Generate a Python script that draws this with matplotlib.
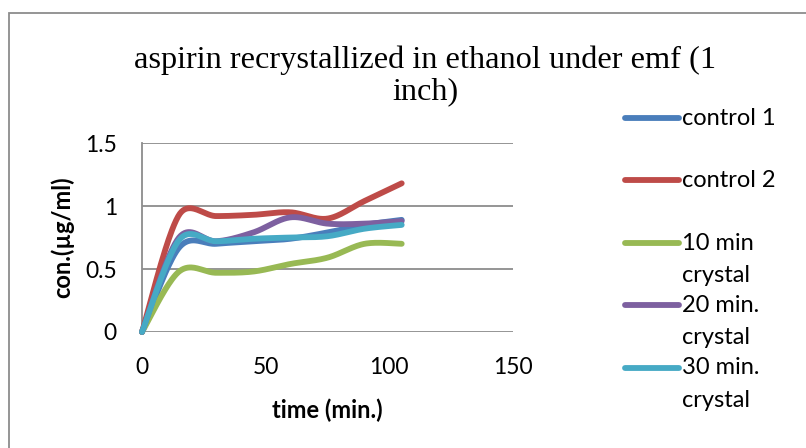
import numpy as np
import matplotlib
matplotlib.use("Agg")
import matplotlib.pyplot as plt
from matplotlib.lines import Line2D
from matplotlib.patches import Rectangle

# ---- data ----
time_min = [0, 15, 30, 45, 60, 75, 90, 105]
control_1 = [0, 0.67, 0.70, 0.72, 0.74, 0.79, 0.85, 0.89]
control_2 = [0, 0.93, 0.92, 0.93, 0.95, 0.90, 1.04, 1.18]
crystal_10 = [0, 0.48, 0.47, 0.48, 0.54, 0.59, 0.70, 0.70]
crystal_20 = [0, 0.75, 0.72, 0.79, 0.91, 0.86, 0.86, 0.88]
crystal_30 = [0, 0.73, 0.72, 0.74, 0.75, 0.76, 0.82, 0.85]
series_labels = ["control 1", "control 2", "10 min\ncrystal", "20 min.\ncrystal", "30 min.\ncrystal"]
x_ticks = [0, 50, 100, 150]
y_ticks = [0, 0.5, 1, 1.5]
y_tick_labels = ["0", "0.5", "1", "1.5"]
title = "aspirin recrystallized in ethanol under emf (1\ninch)"
x_label = "time (min.)"
y_label = "con.(\u00b5g/ml)"

colors = ["#4A7EBB", "#BE4B48", "#98B954", "#7D60A0", "#46AAC5"]
series = [control_1, control_2, crystal_10, crystal_20, crystal_30]

W, H = 806, 448
AX_L, AX_R, AX_T, AX_B = 142, 513, 143, 332
XMAX, YMAX = 150, 1.5
LW = 4.2


def smooth(xs, ys, n=40):
    """Excel-like smoothing (Bezier, tension 1/6, limited to half segment), computed in pixel space."""
    kx = (AX_R - AX_L) / XMAX
    ky = (AX_B - AX_T) / YMAX
    P = np.column_stack([np.asarray(xs, float) * kx, np.asarray(ys, float) * ky])
    out = [P[0]]
    m = len(P)
    for i in range(m - 1):
        p0 = P[i - 1] if i > 0 else P[i]
        p1 = P[i]
        p2 = P[i + 1]
        p3 = P[i + 2] if i + 2 < m else P[i + 1]
        d12 = np.linalg.norm(p2 - p1)
        d02 = np.linalg.norm(p2 - p0)
        d13 = np.linalg.norm(p3 - p1)
        f1 = min(1 / 6, d12 / (2 * d02)) if d02 > 0 else 0
        f2 = min(1 / 6, d12 / (2 * d13)) if d13 > 0 else 0
        c1 = p1 + (p2 - p0) * f1
        c2 = p2 - (p3 - p1) * f2
        t = np.linspace(0, 1, n)[1:, None]
        seg = ((1 - t) ** 3) * p1 + 3 * ((1 - t) ** 2) * t * c1 + 3 * (1 - t) * t ** 2 * c2 + t ** 3 * p2
        out.extend(seg)
    out = np.array(out)
    return out[:, 0] / kx, out[:, 1] / ky


fig = plt.figure(figsize=(W / 100, H / 100), dpi=100)
fig.patch.set_facecolor("white")

# outer chart border (only top/left visible)
fig.add_artist(Rectangle((9 / W, -0.1), 1.2, (H - 13) / H + 0.1, transform=fig.transFigure,
                         fill=False, edgecolor="#8c8c8c", linewidth=1.3))

ax = fig.add_axes([AX_L / W, (H - AX_B) / H, (AX_R - AX_L) / W, (AX_B - AX_T) / H])
ax.set_xlim(0, XMAX)
ax.set_ylim(0, YMAX)

for yv in y_ticks:
    ax.axhline(yv, color="#8c8c8c", linewidth=1.3, zorder=1)
for s in ["top", "right", "bottom"]:
    ax.spines[s].set_visible(False)
ax.spines["left"].set_color("#8c8c8c")
ax.spines["left"].set_linewidth(1.3)

for ys, c in zip(series, colors):
    sx, sy = smooth(time_min, ys)
    ax.plot(sx, sy, color=c, linewidth=LW, solid_capstyle="round", zorder=3, clip_on=False)

tick_font = dict(family="Lato", size=16.5)
ax.set_xticks(x_ticks)
ax.set_xticklabels([str(v) for v in x_ticks], fontdict=tick_font)
ax.set_yticks(y_ticks)
ax.set_yticklabels(y_tick_labels, fontdict=tick_font)
ax.tick_params(axis="both", length=0, colors="black")
ax.tick_params(axis="x", pad=18)
ax.tick_params(axis="y", pad=18)

ax.set_xlabel(x_label, fontfamily="Lato", fontweight="bold", fontsize=17)
ax.xaxis.label.set_verticalalignment("center")
ax.xaxis.set_label_coords(0.5, (AX_B - 410) / (AX_B - AX_T))
ax.set_ylabel(y_label, fontfamily="Lato", fontweight="bold", fontsize=17)
ax.yaxis.label.set_verticalalignment("center")
ax.yaxis.set_label_coords((62 - AX_L) / (AX_R - AX_L), 0.5)

fig.text(425 / W, 1 - 75.5 / H, title, ha="center", va="center", family="Liberation Serif",
         fontsize=23.3, linespacing=1.1)

# legend (manual)
leg_y = [118, 180, 243, 305, 368]
for lab, c, yy in zip(series_labels, colors, leg_y):
    fig.add_artist(Line2D([625 / W, 679 / W], [1 - yy / H, 1 - yy / H], transform=fig.transFigure,
                          color=c, linewidth=LW, solid_capstyle="round"))
    for k, part in enumerate(lab.split("\n")):
        fig.text(682 / W, 1 - (yy + 32 * k) / H, part, ha="left", va="center", family="Lato",
                 fontsize=17)

fig.savefig("out.png", dpi=100)
